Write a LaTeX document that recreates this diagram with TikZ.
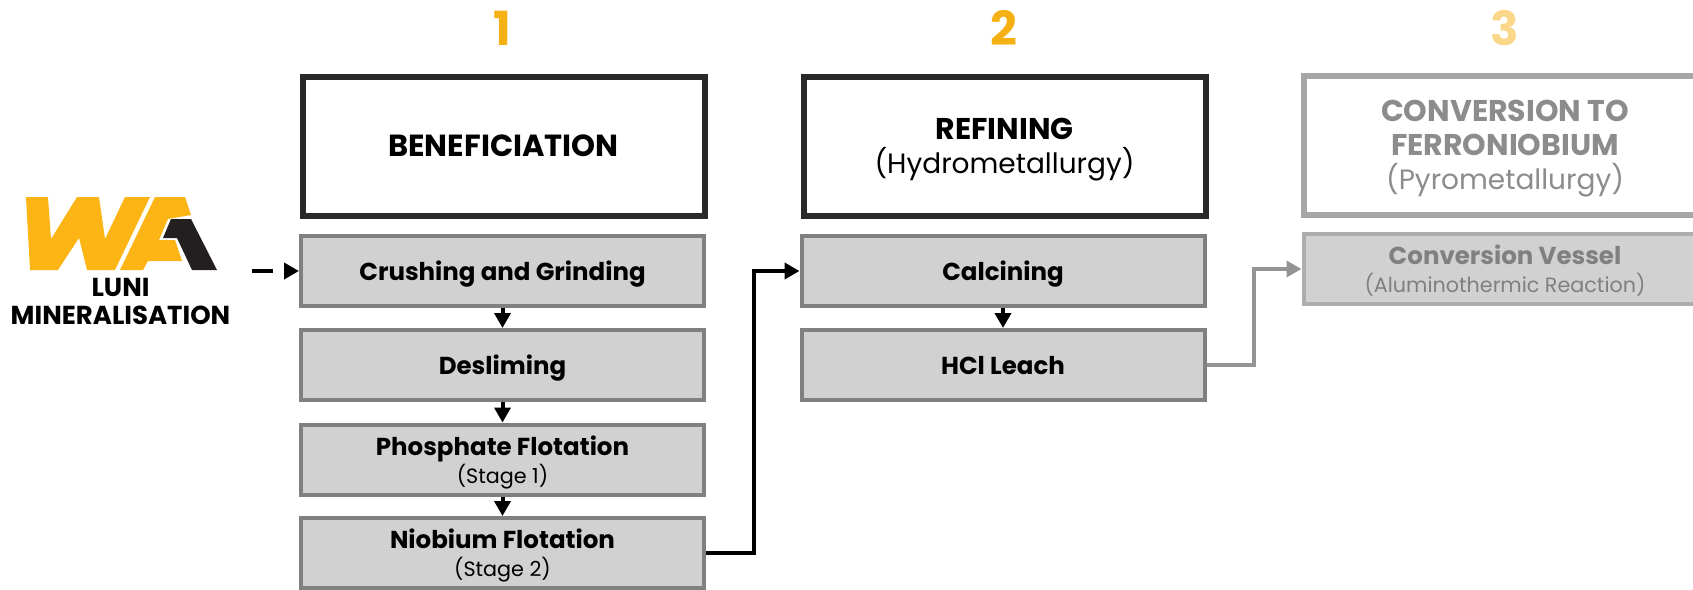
\documentclass[tikz,border=0pt]{standalone}
\usepackage{fontspec}
\setmainfont{Poppins}
\usetikzlibrary{arrows.meta,positioning}
\definecolor{stepnum}{HTML}{F5B014}
\definecolor{logoyellow}{HTML}{FDB515}
\definecolor{logodark}{HTML}{231F20}
\newcommand{\subline}{\fontsize{20.7}{25.5}\selectfont}
\tikzset{
    headbox/.style={draw=black!84,line width=6pt,fill=white,minimum width=402pt,minimum height=139pt,align=center,font=\fontsize{28}{34}\selectfont,inner sep=0pt,text depth=0pt},
    stagebox/.style={draw=black!50,line width=4pt,fill=black!18,minimum width=403pt,minimum height=70pt,align=center,font=\fontsize{24.5}{28}\selectfont,inner sep=0pt,text depth=0pt},
    flow/.style={line width=4pt,-{Triangle[length=15pt,width=16pt]}},
    fadebox/.style={stagebox,draw=black!32,text=black!50},
    fadehead/.style={headbox,draw=black!35,text=black!45},
    stepno/.style={font=\fontsize{47}{47}\selectfont\bfseries,text=stepnum},
}
\begin{document}
\begin{tikzpicture}[x=1pt,y=-1pt]
    \useasboundingbox (0,0) rectangle (1693,589);
    \clip (0,0) rectangle (1693,589);

    % step numbers
    \node[stepno] (one) at (502,28) {1};
    \node[stepno] (two) at (1003.5,28) {2};
    \node[stepno,opacity=.5] (three) at (1505,28) {3};

    % headers
    \node[headbox] (benef) at (503.5,146) {\textbf{\fontsize{30.5}{34}\selectfont BENEFICIATION}};
    \node[headbox] (refin) at (1004.5,146) {\textbf{\fontsize{30}{34}\selectfont REFINING}\\(Hydrometallurgy)};
    \node[fadehead] (conv) at (1505,145) {\textbf{\fontsize{30}{34}\selectfont CONVERSION TO}\\\textbf{\fontsize{30}{34}\selectfont FERRONIOBIUM}\\(Pyrometallurgy)};

    % first column
    \node[stagebox] (crush) at (502.5,271) {\textbf{Crushing and Grinding}};
    \node[stagebox] (desl) at (502.5,365) {\textbf{Desliming}};
    \node[stagebox] (phos) at (502.5,459.5) {\textbf{Phosphate Flotation}\\{\subline(Stage 1)}};
    \node[stagebox] (niob) at (502.5,553) {\textbf{Niobium Flotation}\\{\subline(Stage 2)}};

    % second column
    \node[stagebox] (calc) at (1003,271) {\textbf{Calcining}};
    \node[stagebox] (hcl) at (1003,365) {\textbf{HCl Leach}};

    % third column
    \node[fadebox] (vessel) at (1505,269) {\textbf{Conversion Vessel}\\{\subline(Aluminothermic Reaction)}};

    % logo
    \fill[logoyellow] (26,197) -- (48,197) -- (51,239) -- (77,197) -- (99,197) -- (105,239) -- (125,197) -- (150,197) -- (115,270) -- (87,270) -- (79,238) -- (58,270) -- (30,270) -- cycle;
    \fill[logoyellow] (155,197) -- (185,197) -- (191,215) -- (168,219) -- (159,240) -- (175,240) -- (182,261) -- (148,261) -- (143,270) -- (120,270) -- cycle;
    \fill[logodark] (171,219) -- (191,219) -- (217,270) -- (192,270) -- (177,238) -- (163,238) -- cycle;
    \node[align=center,font=\fontsize{26}{28}\selectfont] (luni) at (120.5,301) {\textbf{LUNI}\\\textbf{MINERALISATION}};

    \coordinate (dashstart) at (252,271);
    \coordinate (upper) at (753.5,271);
    \coordinate (lower) at (1254,269);

    % connectors
    \draw[flow,dash pattern=on 21pt off 40pt] (dashstart) -- (crush);
    \draw[flow] (crush) -- (desl);
    \draw[flow] (desl) -- (phos);
    \draw[flow] (phos) -- (niob);
    \draw[flow] (calc) -- (hcl);
    \draw[flow] (niob.east) -| (upper) -- (calc.west);
    \draw[flow,draw=black!42,line width=3.5pt] (hcl.east) -| (lower) -- (vessel.west);
\end{tikzpicture}
\end{document}
